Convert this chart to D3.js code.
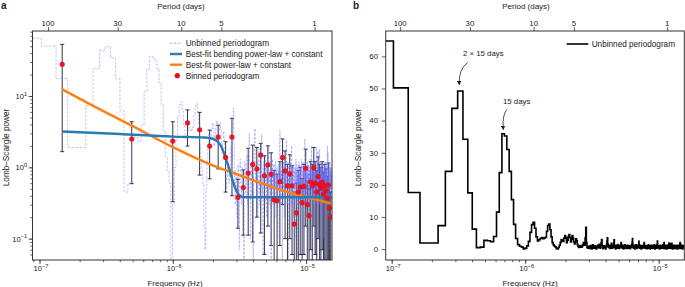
<!DOCTYPE html>
<html><head><meta charset="utf-8">
<script src="https://cdn.jsdelivr.net/npm/d3@7"></script>
<style>
body{margin:0;background:#fff}
svg{display:block}
text{font-family:"Liberation Sans",Arial,Helvetica,sans-serif;fill:#222}
</style>
</head><body>
<svg id="c" width="685" height="287"></svg>
<script>
// ---------------- DATA ----------------
// Unbinned Lomb-Scargle periodogram: frequency grid index k (f = k * freqStep)
const firstFreqIndex = 3;
const freqStep = 2.975e-8; // Hz
const unbinnedPower = [
 64.8, 50.2, 17.6, 1.9, 1.9, 7.3, 24.2, 43.8, 49.2, 34.2, 17.5, 6.2, 0.45, 0.6, 2.7, 2.6, 2.3, 3.9, 11.5, 23.8,
 35.9, 35.2, 31.0, 24.2, 15.4, 7.7, 3.3, 1.4, 0.9, 0.6, 0.04, 0.3, 1.0, 2.4, 5.2, 7.6, 8.3, 6.5, 3.8, 2.5,
 2.9, 3.3, 3.6, 3.2, 3.4, 3.7, 5.5, 7.3, 7.8, 6.0, 3.8, 2.0, 1.3, 0.9, 0.6, 0.15, 0.07, 0.5, 1.2, 2.1,
 3.0, 2.6, 2.4, 3.4, 4.2, 3.5, 2.0, 2.8, 3.9, 4.5, 3.6, 2.2, 3.0, 4.2, 3.4, 2.2, 1.6, 2.3, 3.2, 2.6,
 1.4, 0.8, 0.5, 0.7, 1.1, 0.9, 0.6, 0.8, 1.3, 2.0, 1.6, 1.2, 3.5, 6.8, 2.0,
 0.6, 0.3, 0.9, 0.5, 0.2, 0.8, 1.1, 0.4, 0.07, 0.6, 1.3, 0.9, 0.3, 0.5, 1.0, 0.7, 0.2, 0.04, 0.6, 1.2,
 0.8, 0.4, 0.9, 1.5, 0.6, 0.3, 1.1, 2.0, 3.0, 1.2, 0.5, 0.1, 0.7, 1.0, 0.4, 0.8, 0.5, 0.03, 0.9, 1.4,
 2.4, 3.5, 1.6, 0.6, 0.9, 0.4, 1.2, 0.7, 0.2, 0.5, 1.0, 1.8, 0.9, 0.3, 0.6, 1.1, 0.5, 1.7, 2.9, 1.0,
 0.4, 0.8, 0.06, 0.7, 1.2, 0.5, 0.9, 0.3, 1.4, 0.8, 0.5, 1.1, 0.2, 0.7, 1.0, 0.4, 0.6, 1.3, 2.0, 0.8,
 0.5, 0.9, 0.3, 0.7, 1.2, 0.6, 0.04, 0.8, 1.0, 0.5, 1.3, 0.7, 0.3, 0.9, 0.6, 1.1, 0.4, 0.8, 0.2, 0.7,
 1.2, 0.5, 0.9, 0.3, 0.6, 1.0, 0.4, 0.8, 0.1, 0.7, 1.1, 0.5, 0.9, 0.6, 1.4, 2.2, 3.3, 1.5, 0.6, 0.8,
 0.3, 0.9, 0.5, 1.2, 0.7, 0.05, 0.6, 1.0, 0.4, 0.8, 1.3, 0.5, 0.9, 0.2, 0.7, 1.1, 0.6, 0.4, 1.0, 0.7,
 1.5, 2.4, 1.1, 0.5, 0.8, 0.3, 0.9, 0.6, 1.2, 0.4, 0.7, 0.03, 0.8, 1.0, 0.5, 0.9, 0.3, 0.7, 1.1, 0.6,
 0.4, 0.8, 1.2, 1.6, 2.0, 1.1, 0.6, 0.9, 0.3, 0.7, 1.0, 0.5, 0.2, 0.8, 1.1, 0.6, 0.4, 0.9, 0.7, 0.1,
 0.6, 1.0, 0.5, 0.8, 1.3, 0.7, 0.3, 0.9, 0.6, 1.1, 0.4, 0.8, 0.05, 0.7, 1.0, 0.5, 0.9, 0.6, 1.2, 0.4,
 0.7, 0.3, 0.9, 1.1, 0.5, 0.8, 0.2, 0.6, 1.0, 0.7, 0.4, 0.9, 1.3, 0.6, 0.3, 0.8, 1.1, 0.5, 0.07, 0.7,
 0.9, 0.5, 1.2, 0.6, 0.4, 0.8, 1.0, 0.3, 0.7, 1.1, 1.6, 2.5, 1.4, 0.6, 0.9, 0.4, 0.7, 1.0, 0.5, 0.8,
 0.2, 0.6, 1.0, 0.5, 0.8, 0.04, 0.7, 1.2, 0.6, 0.9, 0.3, 0.7, 1.1, 0.5, 0.8, 0.4, 1.0, 0.6, 0.9, 0.3,
 0.7, 1.0, 0.5, 0.8, 1.3, 0.6, 0.2, 0.9, 0.7, 1.1, 1.5, 2.0, 1.2, 0.6, 0.8, 0.4, 0.9, 0.1, 0.7, 1.0,
 0.5, 0.8, 1.2, 0.6, 0.3, 0.9, 0.7, 1.1, 0.5, 0.8, 0.06, 0.6, 1.0, 0.4, 0.8, 1.2, 0.7, 0.5, 0.9, 0.3,
 0.7, 1.0, 1.4, 1.9, 1.2, 0.8, 0.5, 0.9, 0.3, 0.7, 1.1, 0.6, 0.4, 1.3, 1.7, 1.0, 0.5, 0.8, 0.2, 0.7,
 1.0, 0.6, 0.9, 1.4, 1.8, 1.1, 0.5, 0.8, 0.3, 0.7, 0.04, 0.9, 0.6, 1.0, 0.4, 0.8, 1.2, 0.6, 0.9, 0.5,
 0.7, 1.1, 0.4, 0.8, 0.2, 0.6, 1.0, 0.7, 0.5, 0.9, 1.2, 0.6, 0.3, 0.8, 1.0, 0.5, 0.7, 0.1, 0.9, 0.6,
 1.1, 0.5, 0.8, 0.4, 0.9, 0.7, 1.0, 0.3, 0.6, 1.2, 0.8, 0.5, 0.9, 0.05, 0.7, 1.0, 0.6, 0.4, 0.8, 1.1,
 0.6, 0.9, 0.3, 0.7, 1.0, 0.5, 1.3, 1.8, 2.0, 1.4, 0.8, 0.6, 1.1, 1.6, 0.9, 0.4, 0.7, 0.2, 0.8, 1.0,
 0.5, 0.9, 0.6, 1.2, 0.7, 0.3, 0.8, 1.0, 0.5, 0.07, 0.7, 1.1, 0.6, 0.9, 0.4, 0.8, 1.0, 0.5, 0.7, 0.3,
 0.9, 0.6, 1.0, 0.5, 0.8, 0.6
];

// Binned periodogram (panel a)
const binnedFreq = [1.48e-7, 4.92e-7, 1.0e-6, 1.29e-6, 1.59e-6, 1.89e-6, 2.19e-6, 2.49e-6, 2.78e-6, 3.08e-6,
 3.38e-6, 3.68e-6, 3.98e-6, 4.27e-6, 4.57e-6, 4.87e-6, 5.17e-6, 5.47e-6, 5.76e-6, 6.06e-6,
 6.36e-6, 6.66e-6, 6.96e-6, 7.25e-6, 7.55e-6, 7.85e-6, 8.15e-6, 8.45e-6, 8.74e-6, 9.04e-6,
 9.34e-6, 9.64e-6, 9.94e-6, 1.023e-5, 1.053e-5, 1.083e-5, 1.113e-5, 1.143e-5, 1.172e-5, 1.202e-5,
 1.232e-5, 1.262e-5, 1.292e-5, 1.321e-5, 1.351e-5, 1.381e-5, 1.411e-5, 1.441e-5, 1.470e-5, 1.500e-5, 1.530e-5];
const binnedPower = [27.9, 2.49, 2.34, 4.2, 3.37, 1.99, 2.66, 1.38, 2.66, 0.38,
 0.52, 0.83, 1.10, 0.95, 1.49, 0.76, 1.08, 0.80, 0.35, 0.34,
 0.63, 1.38, 0.89, 0.55, 0.81, 0.55, 0.16, 0.23, 0.45, 0.53,
 0.32, 0.54, 0.97, 0.30, 0.21, 0.62, 0.55, 0.99, 0.60, 0.45,
 0.74, 0.58, 0.51, 0.62, 0.42, 0.55, 0.47, 0.37, 0.57, 0.27, 0.20];
const binnedErrLow = [1.66, 0.59, 0.33, 1.99, 0.78, 0.69, 0.95, 0.45, 0.40, 0.14,
 0.112, 0.112, 0.09, 0.2, 0.12, 0.06, 0.15, 0.08, 0.04, 0.04,
 0.08, 0.3, 0.1, 0.04, 0.1, 0.06, 0.03, 0.03, 0.05, 0.06,
 0.03, 0.06, 0.15, 0.03, 0.03, 0.07, 0.05, 0.15, 0.06, 0.04,
 0.1, 0.05, 0.05, 0.07, 0.04, 0.05, 0.04, 0.03, 0.05, 0.03, 0.02];
const binnedErrHigh = [53, 4.36, 4.36, 6.4, 5.9, 3.33, 3.9, 2.29, 4.87, 0.68,
 0.92, 1.85, 2.05, 1.9, 2.17, 1.45, 2.0, 1.6, 0.9, 0.8,
 1.2, 2.5, 1.7, 1.1, 1.5, 1.05, 0.45, 0.6, 0.9, 1.0,
 0.7, 1.1, 1.8, 0.65, 0.5, 1.2, 1.1, 1.9, 1.2, 0.9,
 1.4, 1.1, 1.0, 1.2, 0.85, 1.1, 0.95, 0.75, 1.15, 0.55, 0.45];

// Best-fit curves
const bendingFitFreq = [1.483e-7, 4.02e-7, 1.0e-6, 1.744e-6, 1.968e-6, 2.146e-6, 2.299e-6, 2.463e-6, 2.64e-6, 2.805e-6, 2.954e-6, 3.138e-6, 3.362e-6, 3.794e-6, 1.564e-5];
const bendingFitPower = [3.18, 2.93, 2.70, 2.62, 2.54, 2.34, 1.99, 1.44, 0.98, 0.66, 0.50, 0.41, 0.383, 0.380, 0.380];
const powerLawFitFreq = [1.483e-7, 2.84e-7, 4.92e-7, 1.0e-6, 2.01e-6, 2.93e-6, 4.51e-6, 6.79e-6, 1.07e-5, 1.564e-5];
const powerLawFitPower = [12.4, 6.5, 3.85, 1.92, 1.06, 0.82, 0.61, 0.47, 0.37, 0.31];

// Tick labels
const periodTicksDays = [100, 30, 10, 5, 1];
const freqDecades = [-7, -6, -5];
const powerDecadesA = [-1, 0, 1];
const powerTicksB = [0, 10, 20, 30, 40, 50, 60];

const legendA = ["Unbinned periodogram", "Best-fit bending power-law + constant", "Best-fit power-law + constant", "Binned periodogram"];
const legendB = ["Unbinned periodogram"];
const annotations = ["2 \u00d7 15 days", "15 days"];

// ---------------- STYLE ----------------
const COL = {axis: "#333", dash: "#7474ff", blue: "#2a7ab4", orange: "#ff7f11", red: "#ee0a1a", err: "#1c1c30"};
const SEC_PER_DAY = 86400;

const svg = d3.select("#c");
const unbinnedFreq = unbinnedPower.map((_, i) => (firstFreqIndex + i) * freqStep);
const unbinned = unbinnedFreq.map((f, i) => ({f, p: unbinnedPower[i]}));

const defs = svg.append("defs");
defs.append("marker").attr("id", "ah").attr("viewBox", "0 0 10 10").attr("refX", 8).attr("refY", 5)
  .attr("markerWidth", 5.5).attr("markerHeight", 5.5).attr("orient", "auto")
  .append("path").attr("d", "M0,0 L10,5 L0,10 z").attr("fill", "#222");

function minorLogTicks(domain, decades) {
  const out = [];
  decades.forEach(d => { for (let m = 1; m <= 9; m++) { const v = m * Math.pow(10, d); if (v >= domain[0] && v <= domain[1]) out.push(v); } });
  return out;
}
function powLabel(g, exp, x, y, anchor) {
  const t = g.append("text").attr("x", x).attr("y", y).attr("text-anchor", anchor).attr("font-size", 7.6);
  t.append("tspan").text("10");
  t.append("tspan").attr("dy", -3.2).attr("font-size", 5.6).text(exp < 0 ? "\u2212" + (-exp) : String(exp));
}
function styleAxis(g) {
  g.select(".domain").remove();
  g.selectAll(".tick line").attr("stroke", COL.axis).attr("stroke-width", 0.8);
  g.selectAll(".tick text").remove();
}

// ---------------- PANEL A ----------------
const A = {l: 32.5, r: 332, t: 31, b: 260};
const xA = d3.scaleLog().domain([8.86e-8, 1.565e-5]).range([A.l, A.r]);
const yA = d3.scaleLog().domain([0.0502, 81.7]).range([A.b, A.t]);
const gA = svg.append("g");
defs.append("clipPath").attr("id", "clipA").append("rect").attr("x", A.l).attr("y", A.t).attr("width", A.r - A.l).attr("height", A.b - A.t);
const plotA = gA.append("g").attr("clip-path", "url(#clipA)");

// error bars
const eb = plotA.append("g").attr("stroke", COL.err).attr("stroke-width", 0.9);
binnedFreq.forEach((f, i) => {
  const x = xA(f), y0 = yA(binnedErrLow[i]), y1 = yA(binnedErrHigh[i]);
  eb.append("line").attr("x1", x).attr("x2", x).attr("y1", y0).attr("y2", y1);
  eb.append("line").attr("x1", x - 2).attr("x2", x + 2).attr("y1", y0).attr("y2", y0);
  eb.append("line").attr("x1", x - 2).attr("x2", x + 2).attr("y1", y1).attr("y2", y1);
});
// unbinned periodogram dashed
plotA.append("path").datum(unbinned)
  .attr("d", d3.line().x(d => xA(d.f)).y(d => yA(Math.max(d.p, 1e-3))).curve(d3.curveStep))
  .attr("fill", "none").attr("stroke", COL.dash).attr("stroke-opacity", 0.5).attr("stroke-width", 0.9)
  .attr("stroke-dasharray", "2.5,1.5");
// fits
plotA.append("path").datum(powerLawFitFreq.map((f, i) => [f, powerLawFitPower[i]]))
  .attr("d", d3.line().x(d => xA(d[0])).y(d => yA(d[1])).curve(d3.curveMonotoneX))
  .attr("fill", "none").attr("stroke", COL.orange).attr("stroke-width", 2.4);
plotA.append("path").datum(bendingFitFreq.map((f, i) => [f, bendingFitPower[i]]))
  .attr("d", d3.line().x(d => xA(d[0])).y(d => yA(d[1])).curve(d3.curveMonotoneX))
  .attr("fill", "none").attr("stroke", COL.blue).attr("stroke-width", 2.4);
// binned points
plotA.append("g").selectAll("circle").data(binnedFreq).join("circle")
  .attr("cx", d => xA(d)).attr("cy", (d, i) => yA(binnedPower[i])).attr("r", 2.6)
  .attr("fill", COL.red).attr("fill-opacity", 0.92);

// axes A
const fTicksA = minorLogTicks(xA.domain(), [-8, -7, -6, -5]);
gA.append("g").attr("transform", `translate(0,${A.b})`).call(d3.axisBottom(xA).tickValues(fTicksA).tickSize(2.2)).call(styleAxis);
gA.append("g").attr("transform", `translate(0,${A.b})`).call(d3.axisBottom(xA).tickValues(freqDecades.map(d => Math.pow(10, d))).tickSize(4)).call(styleAxis);
const pTicksA = minorLogTicks(yA.domain(), [-2, -1, 0, 1]);
gA.append("g").attr("transform", `translate(${A.l},0)`).call(d3.axisLeft(yA).tickValues(pTicksA).tickSize(2.2)).call(styleAxis);
gA.append("g").attr("transform", `translate(${A.l},0)`).call(d3.axisLeft(yA).tickValues(powerDecadesA.map(d => Math.pow(10, d))).tickSize(4)).call(styleAxis);
gA.append("g").attr("transform", `translate(0,${A.t})`).call(d3.axisTop(xA).tickValues(periodTicksDays.map(p => 1 / (p * SEC_PER_DAY))).tickSize(4)).call(styleAxis);
gA.append("rect").attr("x", A.l).attr("y", A.t).attr("width", A.r - A.l).attr("height", A.b - A.t)
  .attr("fill", "none").attr("stroke", COL.axis).attr("stroke-width", 1);
freqDecades.forEach(d => powLabel(gA, d, xA(Math.pow(10, d)) + 1.5, 271, "middle"));
powerDecadesA.forEach(d => powLabel(gA, d, 27, yA(Math.pow(10, d)) + 3, "end"));
periodTicksDays.forEach(p => gA.append("text").attr("x", xA(1 / (p * SEC_PER_DAY))).attr("y", 26)
  .attr("text-anchor", "middle").attr("font-size", 7.8).text(p));
gA.append("text").attr("x", 181).attr("y", 9).attr("text-anchor", "middle").attr("font-size", 8).text("Period (days)");
gA.append("text").attr("x", 175).attr("y", 285.5).attr("text-anchor", "middle").attr("font-size", 8).text("Frequency (Hz)");
gA.append("text").attr("transform", "translate(8.5,147.5) rotate(-90)").attr("text-anchor", "middle").attr("font-size", 8.2).text("Lomb\u2013Scargle power");
gA.append("text").attr("x", 1).attr("y", 8.5).attr("font-size", 10).attr("font-weight", "bold").text("a");

// legend A
const lgA = gA.append("g");
const rowsA = [43.3, 54, 64.7, 75.7];
lgA.append("line").attr("x1", 170).attr("x2", 182).attr("y1", rowsA[0]).attr("y2", rowsA[0])
  .attr("stroke", COL.dash).attr("stroke-opacity", 0.6).attr("stroke-width", 1).attr("stroke-dasharray", "2.5,1.5");
lgA.append("line").attr("x1", 170).attr("x2", 182).attr("y1", rowsA[1]).attr("y2", rowsA[1]).attr("stroke", COL.blue).attr("stroke-width", 2.4);
lgA.append("line").attr("x1", 170).attr("x2", 182).attr("y1", rowsA[2]).attr("y2", rowsA[2]).attr("stroke", COL.orange).attr("stroke-width", 2.4);
lgA.append("circle").attr("cx", 177.3).attr("cy", rowsA[3]).attr("r", 2.6).attr("fill", COL.red);
legendA.forEach((t, i) => lgA.append("text").attr("x", 185.7).attr("y", rowsA[i] + 2.9).attr("font-size", 8.2).text(t));

// ---------------- PANEL B ----------------
const B = {l: 385.7, r: 684.3, t: 31, b: 260};
const xB = d3.scaleLog().domain([9.02e-8, 1.555e-5]).range([B.l, B.r]);
const yB = d3.scaleLinear().domain([-3.4, 67.9]).range([B.b, B.t]);
const gB = svg.append("g");
defs.append("clipPath").attr("id", "clipB").append("rect").attr("x", B.l).attr("y", B.t).attr("width", B.r - B.l).attr("height", B.b - B.t);
gB.append("g").attr("clip-path", "url(#clipB)").append("path").datum(unbinned)
  .attr("d", d3.line().x(d => xB(d.f)).y(d => yB(d.p)).curve(d3.curveStep))
  .attr("fill", "none").attr("stroke", "#000").attr("stroke-width", 1.6).attr("stroke-linejoin", "miter");

const fTicksB = minorLogTicks(xB.domain(), [-8, -7, -6, -5]);
gB.append("g").attr("transform", `translate(0,${B.b})`).call(d3.axisBottom(xB).tickValues(fTicksB).tickSize(2.2)).call(styleAxis);
gB.append("g").attr("transform", `translate(0,${B.b})`).call(d3.axisBottom(xB).tickValues(freqDecades.map(d => Math.pow(10, d))).tickSize(4)).call(styleAxis);
gB.append("g").attr("transform", `translate(${B.l},0)`).call(d3.axisLeft(yB).tickValues(powerTicksB).tickSize(4)).call(styleAxis);
gB.append("g").attr("transform", `translate(0,${B.t})`).call(d3.axisTop(xB).tickValues(periodTicksDays.map(p => 1 / (p * SEC_PER_DAY))).tickSize(4)).call(styleAxis);
gB.append("rect").attr("x", B.l).attr("y", B.t).attr("width", B.r - B.l).attr("height", B.b - B.t)
  .attr("fill", "none").attr("stroke", COL.axis).attr("stroke-width", 1);
freqDecades.forEach(d => powLabel(gB, d, xB(Math.pow(10, d)) + 1.5, 271, "middle"));
powerTicksB.forEach(v => gB.append("text").attr("x", 378).attr("y", yB(v) + 2.8).attr("text-anchor", "end").attr("font-size", 7.8).text(v));
periodTicksDays.forEach(p => gB.append("text").attr("x", xB(1 / (p * SEC_PER_DAY))).attr("y", 26)
  .attr("text-anchor", "middle").attr("font-size", 7.8).text(p));
gB.append("text").attr("x", 526).attr("y", 9).attr("text-anchor", "middle").attr("font-size", 8).text("Period (days)");
gB.append("text").attr("x", 530).attr("y", 285.5).attr("text-anchor", "middle").attr("font-size", 8).text("Frequency (Hz)");
gB.append("text").attr("transform", "translate(361,147.5) rotate(-90)").attr("text-anchor", "middle").attr("font-size", 8.2).text("Lomb\u2013Scargle power");
gB.append("text").attr("x", 353).attr("y", 8.5).attr("font-size", 10).attr("font-weight", "bold").text("b");

// legend B
gB.append("line").attr("x1", 566.7).attr("x2", 588.3).attr("y1", 44).attr("y2", 44).attr("stroke", "#000").attr("stroke-width", 1.6);
gB.append("text").attr("x", 591.7).attr("y", 47).attr("font-size", 8.2).text(legendB[0]);

// annotations
gB.append("text").attr("x", 483.3).attr("y", 56.2).attr("text-anchor", "middle").attr("font-size", 7.8).text(annotations[0]);
gB.append("path").attr("d", "M467.7,62.5 Q458.5,69 459.3,84.5").attr("fill", "none").attr("stroke", "#222").attr("stroke-width", 0.8).attr("marker-end", "url(#ah)");
gB.append("text").attr("x", 516.7).attr("y", 103.5).attr("text-anchor", "middle").attr("font-size", 7.8).text(annotations[1]);
gB.append("path").attr("d", "M507,109.5 Q502,115 503.3,129.3").attr("fill", "none").attr("stroke", "#222").attr("stroke-width", 0.8).attr("marker-end", "url(#ah)");
</script>
</body></html>
